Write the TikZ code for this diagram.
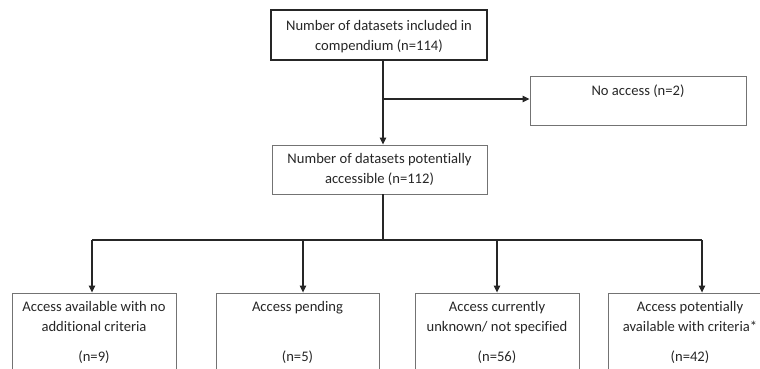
\documentclass[tikz,border=0pt]{standalone}
\usepackage{fontspec}
\setmainfont{Carlito}[Ligatures=NoCommon]
\usetikzlibrary{arrows.meta}
\begin{document}
\begin{tikzpicture}[x=1pt,y=-1pt,
  box/.style={draw=black!55, line width=0.9pt, align=center, inner sep=0pt,
    font=\fontsize{14.6}{20.5}\selectfont, text=black!85},
  topbox/.style={box, draw=black!85, line width=1.8pt},
  lowbox/.style={box, minimum width=164pt, minimum height=78pt},
  conn/.style={draw=black!85, line width=1.1pt},
  arr/.style={conn, -{Triangle[length=7pt,width=6.5pt]}}]
\useasboundingbox (0,0) rectangle (760,368);
\clip (0,0) rectangle (760,368);

\node[topbox, minimum width=216pt, minimum height=50pt] (a) at (379,35)
  {\rule{0pt}{13pt}Number of datasets included in\\compendium (n=114)};
\node[box, minimum width=216pt, minimum height=49pt] (b) at (638,100.5)
  {No access (n=2)\\\mbox{}};
\node[box, minimum width=215pt, minimum height=49pt] (c) at (379.5,169.5)
  {Number of datasets potentially\\accessible (n=112)};

\node[lowbox] (d1) at (94,332) {Access available with no\\additional criteria\\[9pt](n=9)};
\node[lowbox, minimum width=163pt] (d2) at (297.5,332) {Access pending\\\mbox{}\\[9pt](n=5)};
\node[lowbox] (d3) at (497,332) {Access currently\\unknown/ not specified\\[9pt](n=56)};
\node[lowbox] (d4) at (690,332) {Access potentially\\available with criteria*\\[9pt](n=42)};

\coordinate (br) at (383,99);
\coordinate (hl) at (92,240);
\coordinate (hr) at (702,240);
\coordinate (hm) at (383,240);
\coordinate (t1) at (92,240);
\coordinate (t2) at (303,240);
\coordinate (t3) at (497,240);
\coordinate (t4) at (702,240);

\draw[arr] ([xshift=4pt]a.south) -- ([xshift=3.5pt]c.north);
\draw[arr] (br) -- (b.west |- br);
\draw[conn] ([xshift=3.5pt]c.south) -- (hm);
\draw[conn] (hl) -- (hr);
\draw[arr] (t1) -- (t1 |- d1.north);
\draw[arr] (t2) -- (t2 |- d2.north);
\draw[arr] (t3) -- (t3 |- d3.north);
\draw[arr] (t4) -- (t4 |- d4.north);
\end{tikzpicture}
\end{document}
